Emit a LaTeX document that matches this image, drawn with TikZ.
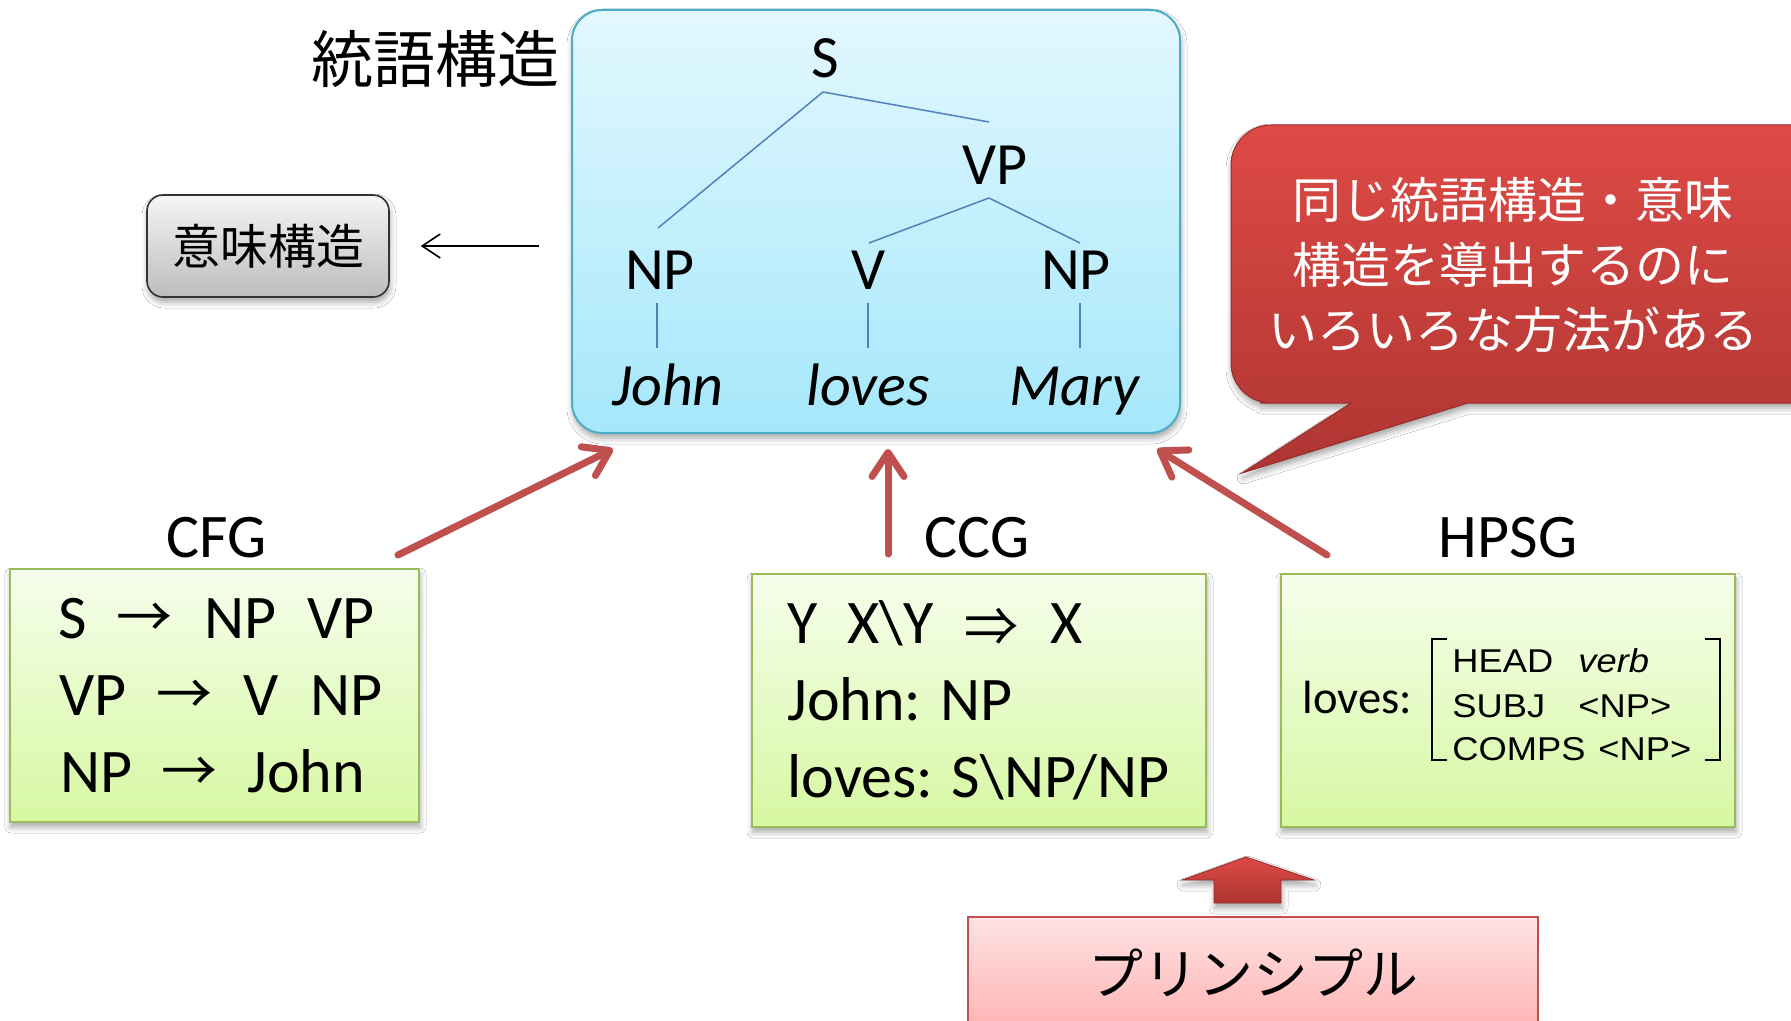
\documentclass[tikz,border=0pt]{standalone}
\usepackage{fontspec}
\setmainfont{Carlito}
\newfontfamily\jp{Noto Sans CJK JP}
\newfontfamily\arialf[FakeStretch=1.1]{Liberation Sans}
\usetikzlibrary{arrows.meta,shadows.blur,calc}

\definecolor{bluefillT}{HTML}{E3F8FE}
\definecolor{bluefillB}{HTML}{A5E7FB}
\definecolor{blueline}{HTML}{4BACC6}
\definecolor{treeblue}{HTML}{4F81BD}
\definecolor{greenT}{HTML}{F6FEEC}
\definecolor{greenB}{HTML}{D6F8A2}
\definecolor{greenline}{HTML}{9BBB59}
\definecolor{arrowred}{HTML}{C0504D}
\definecolor{calloutT}{HTML}{DE4A45}
\definecolor{calloutB}{HTML}{AE3532}
\definecolor{pinkT}{HTML}{FFE3E3}
\definecolor{pinkB}{HTML}{FFA6A6}
\definecolor{grayT}{HTML}{F5F5F5}
\definecolor{grayB}{HTML}{BDBDBD}

\tikzset{
  softshadow/.style={blur shadow={shadow xshift=0.5pt, shadow yshift=-2.5pt, shadow blur radius=3pt, shadow opacity=35}},
  bluebox/.style={draw=blueline, line width=1pt, rounded corners=15pt, top color=bluefillT, bottom color=bluefillB, softshadow, minimum width=304pt, minimum height=211.5pt, inner sep=0pt},
  greenbox/.style={draw=greenline, line width=1pt, top color=greenT, bottom color=greenB, softshadow, minimum width=227pt, minimum height=126.5pt, inner sep=0pt},
  graybox/.style={draw=black!80, line width=0.8pt, rounded corners=8pt, top color=grayT, bottom color=grayB, softshadow, minimum width=121pt, minimum height=51pt, inner sep=0pt, font=\jp\fontsize{24}{28}\selectfont},
  pinkbox/.style={draw=arrowred, line width=1pt, top color=pinkT, bottom color=pinkB, minimum width=285pt, minimum height=71.5pt, inner sep=0pt},
  callout/.style={draw=calloutB!85!black, line width=0.5pt, top color=calloutT, bottom color=calloutB, softshadow},
  blockarrow/.style={draw=calloutB!85!black, line width=0.4pt, top color=calloutT, bottom color=calloutB, softshadow},
  treelab/.style={inner sep=0pt, anchor=base, font=\fontsize{30}{36}\selectfont},
  leaflab/.style={inner sep=0pt, anchor=base, font=\fontsize{30}{36}\selectfont\itshape},
  treeline/.style={draw=treeblue, line width=0.75pt},
  bigtxt/.style={inner sep=0pt, anchor=base west, font=\fontsize{31}{37}\selectfont},
  symtxt/.style={inner sep=0pt, anchor=center, font=\jp\fontsize{28}{32}\selectfont},
  gramlab/.style={inner sep=0pt, anchor=base, font=\fontsize{31}{37}\selectfont},
  feat/.style={inner sep=0pt, anchor=base west, font=\arialf\fontsize{16.5}{20}\selectfont},
  redarrow/.style={draw=arrowred, line width=3.5pt, line cap=round, -{Straight Barb[round, length=12pt, width=16pt]}},
  thinarrow/.style={draw=black, line width=0.8pt, -{Straight Barb[length=9pt, width=12pt]}},
  brack/.style={draw=black, line width=0.75pt}
}

\begin{document}
\begin{tikzpicture}[x=0.5pt,y=-0.5pt]
\clip (0,0) rectangle (1791,1021);
\fill[white] (0,0) rectangle (1791,1021);

% --- syntax tree box ---
\node[bluebox] (blue) at (876,221.5) {};
\node[inner sep=0pt, font=\jp\fontsize{31}{36}\selectfont] (tougo) at (435,59) {統語構造};

\node[treelab] (S) at (825,78) {S};
\node[treelab] (VP) at (995,185) {VP};
\node[treelab] (NP1) at (660,290) {NP};
\node[treelab] (V) at (869,290) {V};
\node[treelab] (NP2) at (1076,290) {NP};
\node[leaflab] (John) at (668,405) {John};
\node[leaflab] (loves) at (868,405) {loves};
\node[leaflab] (Mary) at (1074,405) {Mary};

\draw[treeline] ($(S.base)+(-2,14)$) -- ($(NP1.base)+(-2,-62)$);
\draw[treeline] ($(S.base)+(-2,14)$) -- ($(VP.base)+(-6,-63)$);
\draw[treeline] ($(VP.base)+(-6,13)$) -- ($(V.base)+(0,-47)$);
\draw[treeline] ($(VP.base)+(-6,13)$) -- ($(NP2.base)+(4,-47)$);
\draw[treeline] ($(NP1.base)+(-3,13)$) -- ($(NP1.base)+(-3,58)$);
\draw[treeline] ($(V.base)+(-1,13)$) -- ($(V.base)+(-1,58)$);
\draw[treeline] ($(NP2.base)+(4,13)$) -- ($(NP2.base)+(4,58)$);

% --- semantic structure ---
\node[graybox] (imi) at (268,246) {意味構造};
\draw[thinarrow, shorten <=16pt, shorten >=15.5pt] (blue.west |- imi.east) -- (imi.east);

% --- callout ---
\path[callout] (1351,403) -- (1242,473) -- (1468,403) [rounded corners=20pt] -- (1860,403) -- (1860,125) -- (1231,125) -- (1231,403) -- (1300,403) [sharp corners] -- cycle;
\node[align=center, text=white, inner sep=0pt, font=\jp\fontsize{24.5}{32.5}\selectfont] (callouttext) at (1513,265) {同じ統語構造・意味\\構造を導出するのに\\いろいろな方法がある};

% --- grammar labels ---
\node[gramlab] (cfglab) at (217,557) {CFG};
\node[gramlab] (ccglab) at (977,557) {CCG};
\node[gramlab] (hpsglab) at (1508,557) {HPSG};

% --- CFG box ---
\node[greenbox, minimum width=204.5pt] (cfg) at (214.5,695.5) {};
\node[bigtxt] (c1a) at (58,638) {S};
\node[symtxt] (c1b) at (144,620) {→};
\node[bigtxt] (c1c) at (204,638) {NP};
\node[bigtxt] (c1d) at (307,638) {VP};
\node[bigtxt] (c2a) at (59,715) {VP};
\node[symtxt] (c2b) at (184,697) {→};
\node[bigtxt] (c2c) at (243,715) {V};
\node[bigtxt] (c2d) at (310,715) {NP};
\node[bigtxt] (c3a) at (60,792) {NP};
\node[symtxt] (c3b) at (189,774) {→};
\node[bigtxt] (c3c) at (247,792) {John};

% --- CCG box ---
\node[greenbox] (ccg) at (979,700.5) {};
\node[bigtxt] (g1a) at (787,643) {Y};
\node[bigtxt] (g1b) at (847,643) {X\textbackslash Y};
\node[symtxt, font=\jp\fontsize{27}{30}\selectfont] (g1c) at (991,627) {⇒};
\node[bigtxt] (g1d) at (1050,643) {X};
\node[bigtxt] (g2) at (787,720) {John: NP};
\node[bigtxt] (g3) at (787,797) {loves: S\textbackslash NP/NP};

% --- HPSG box ---
\node[greenbox] (hpsg) at (1508,700.5) {};
\node[inner sep=0pt, anchor=base west, font=\fontsize{23.3}{28}\selectfont] (hlov) at (1302,713) {loves:};
\draw[brack] (1447,639) -- (1432,639) -- (1432,760) -- (1447,760);
\draw[brack] (1705,639) -- (1720,639) -- (1720,760) -- (1705,760);
\node[feat] (h1a) at (1452,672) {HEAD};
\node[feat, font=\arialf\fontsize{16.5}{20}\selectfont\itshape] (h1b) at (1578,672) {verb};
\node[feat] (h2a) at (1452,717) {SUBJ};
\node[feat] (h2b) at (1578,717) {<NP>};
\node[feat] (h3a) at (1452,760) {COMPS};
\node[feat] (h3b) at (1598,760) {<NP>};

% --- red arrows to the tree ---
\coordinate (a1s) at (398,555); \coordinate (a1e) at (613,449);
\coordinate (a2s) at (888,554); \coordinate (a2e) at (888,449);
\coordinate (a3s) at (1327,555); \coordinate (a3e) at (1157,449);
\draw[redarrow] (a1s) -- (a1e);
\draw[redarrow] (a2s) -- (a2e);
\draw[redarrow] (a3s) -- (a3e);

% --- principle ---
\node[pinkbox] (prin) at (1253,988) {};
\node[inner sep=0pt, font=\jp\fontsize{27.5}{32}\selectfont] (printext) at (1253,973) {プリンシプル};
\path[blockarrow] (1214,903) -- (1214,880) -- (1182,880) -- (1246,857) -- (1314,880) -- (1281,880) -- (1281,903) -- cycle;
\end{tikzpicture}
\end{document}
